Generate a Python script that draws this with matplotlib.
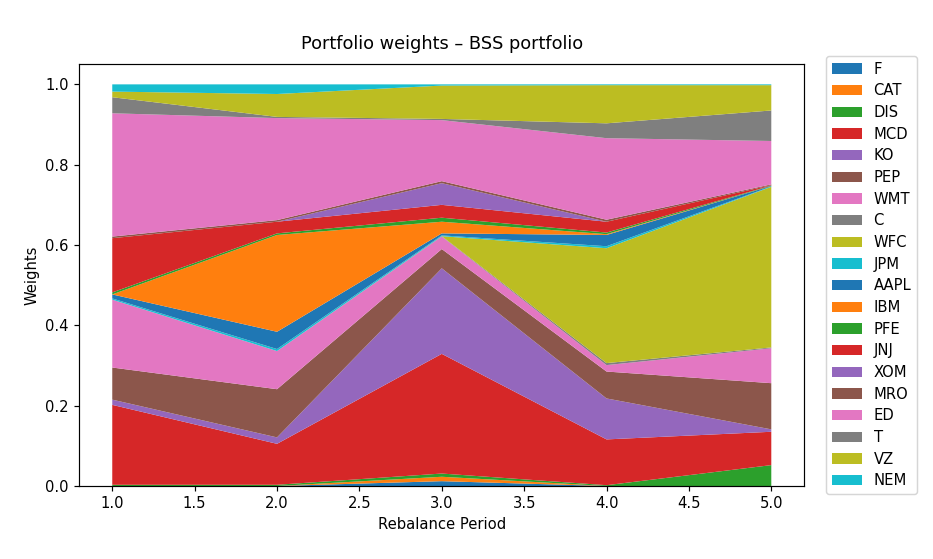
import matplotlib
matplotlib.use("Agg")
import matplotlib.pyplot as plt
import numpy as np

periods = [1.0, 2.0, 3.0, 4.0, 5.0]
tickers = ["F", "CAT", "DIS", "MCD", "KO", "PEP", "WMT", "C", "WFC", "JPM",
           "AAPL", "IBM", "PFE", "JNJ", "XOM", "MRO", "ED", "T", "VZ", "NEM"]

w_F    = [0.000, 0.000, 0.012, 0.000, 0.000]
w_CAT  = [0.000, 0.000, 0.011, 0.000, 0.000]
w_DIS  = [0.003, 0.003, 0.008, 0.002, 0.052]
w_MCD  = [0.199, 0.102, 0.298, 0.114, 0.083]
w_KO   = [0.013, 0.016, 0.213, 0.102, 0.006]
w_PEP  = [0.080, 0.120, 0.048, 0.067, 0.115]
w_WMT  = [0.169, 0.095, 0.031, 0.016, 0.087]
w_C    = [0.000, 0.000, 0.001, 0.005, 0.002]
w_WFC  = [0.000, 0.000, 0.000, 0.286, 0.400]
w_JPM  = [0.003, 0.005, 0.002, 0.005, 0.001]
w_AAPL = [0.010, 0.043, 0.005, 0.028, 0.001]
w_IBM  = [0.000, 0.241, 0.029, 0.002, 0.000]
w_PFE  = [0.005, 0.004, 0.010, 0.004, 0.001]
w_JNJ  = [0.135, 0.029, 0.032, 0.027, 0.001]
w_XOM  = [0.000, 0.000, 0.054, 0.000, 0.000]
w_MRO  = [0.004, 0.004, 0.005, 0.005, 0.002]
w_ED   = [0.307, 0.254, 0.152, 0.203, 0.108]
w_T    = [0.040, 0.003, 0.003, 0.037, 0.076]
w_VZ   = [0.014, 0.057, 0.083, 0.095, 0.063]
w_NEM  = [0.018, 0.024, 0.003, 0.002, 0.002]

weights = [w_F, w_CAT, w_DIS, w_MCD, w_KO, w_PEP, w_WMT, w_C, w_WFC, w_JPM,
           w_AAPL, w_IBM, w_PFE, w_JNJ, w_XOM, w_MRO, w_ED, w_T, w_VZ, w_NEM]

DPI = 106.7
fig = plt.figure(figsize=(933 / DPI, 559 / DPI), dpi=DPI)
ax = fig.add_axes([0.085, 0.1306, 0.777, 0.7544])
ax.stackplot(periods, *weights, labels=tickers)
ax.set_title("Portfolio weights \u2013 BSS portfolio", fontsize=12, pad=10.5)
ax.set_xlabel("Rebalance Period")
ax.set_ylabel("Weights")
ax.legend(loc="center left", bbox_to_anchor=(1.02, 0.5), labelspacing=0.45)
fig.savefig("out.png", dpi=DPI)
